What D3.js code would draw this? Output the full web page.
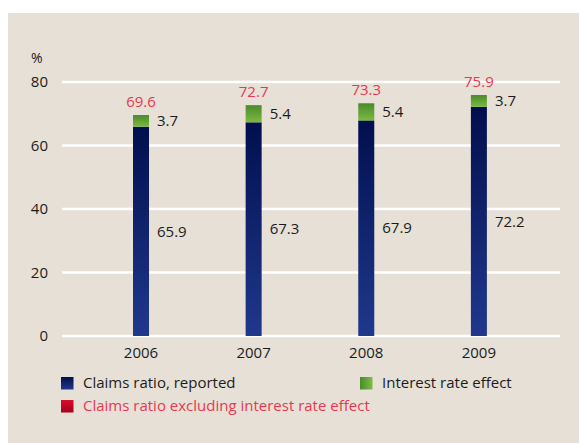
<!DOCTYPE html>
<html><head><meta charset="utf-8">
<script src="https://cdn.jsdelivr.net/npm/d3@7"></script>
<style>body{margin:0;background:#fff}svg{display:block}text{font-family:"Open Sans",sans-serif}</style>
</head><body><div id="chart"></div>
<script>
const years = ["2006","2007","2008","2009"];
const reported = [65.9, 67.3, 67.9, 72.2];
const interestEffect = [3.7, 5.4, 5.4, 3.7];
const excluding = [69.6, 72.7, 73.3, 75.9];
const yTicks = [0,20,40,60,80];
const legendLabels = ["Claims ratio, reported","Interest rate effect","Claims ratio excluding interest rate effect"];

const W=579,H=443;
const svg=d3.select("#chart").append("svg").attr("width",W).attr("height",H);
const defs=svg.append("defs");
function grad(id,x2,y2,c1,c2){const g=defs.append("linearGradient").attr("id",id).attr("x1",0).attr("y1",0).attr("x2",x2).attr("y2",y2);
g.append("stop").attr("offset","0%").attr("stop-color",c1);g.append("stop").attr("offset","100%").attr("stop-color",c2);}
grad("gBlue",0,1,"#020f4e","#20388c");
grad("gGreen",0,1,"#4a8a2c","#7cba40");
grad("gGreenH",1,0,"#4a8a2c","#80bd44");
grad("gRed",0,1,"#d2102c","#a8001e");

svg.append("rect").attr("x",8).attr("y",13).attr("width",W-8).attr("height",H-13).attr("fill","#e6e0d6");

const y=d3.scaleLinear().domain([0,80]).range([336,82]);
const x=d3.scalePoint().domain(years).range([84.7,535.2]).padding(0.5);
const bw=16;
const fs=15, tc="#1c1c1c";

svg.append("g").selectAll("line").data(yTicks).join("line")
 .attr("x1",62).attr("x2",560).attr("y1",d=>y(d)).attr("y2",d=>y(d))
 .attr("stroke","#fff").attr("stroke-width",2.5);
svg.append("g").selectAll("text").data(yTicks).join("text")
 .attr("x",48).attr("y",d=>y(d)).attr("dy","0.35em").attr("text-anchor","end")
 .attr("font-size",fs).attr("fill",tc).text(d=>d);
svg.append("text").attr("x",31).attr("y",63).attr("font-size",14).attr("fill",tc).text("%");

const data=years.map((yr,i)=>({yr,rep:reported[i],ie:interestEffect[i],ex:excluding[i]}));
const g=svg.append("g");
g.selectAll(".b").data(data).join("rect").attr("x",d=>x(d.yr)-bw/2).attr("width",bw)
 .attr("y",d=>y(d.rep)).attr("height",d=>y(0)-y(d.rep)).attr("fill","url(#gBlue)");
g.selectAll(".g").data(data).join("rect").attr("x",d=>x(d.yr)-bw/2).attr("width",bw)
 .attr("y",d=>y(d.rep+d.ie)).attr("height",d=>y(d.rep)-y(d.rep+d.ie)).attr("fill","url(#gGreen)");
g.selectAll(".lr").data(data).join("text").attr("x",d=>x(d.yr)+bw/2+8).attr("y",d=>(y(0)+y(d.rep))/2)
 .attr("dy","0.35em").attr("font-size",fs).attr("fill",tc).text(d=>d.rep.toFixed(1));
g.selectAll(".li").data(data).join("text").attr("x",d=>x(d.yr)+bw/2+8).attr("y",d=>(y(d.rep)+y(d.rep+d.ie))/2)
 .attr("dy","0.35em").attr("font-size",fs).attr("fill",tc).text(d=>d.ie.toFixed(1));
g.selectAll(".le").data(data).join("text").attr("x",d=>x(d.yr)).attr("y",d=>y(d.rep+d.ie)-8)
 .attr("text-anchor","middle").attr("font-size",fs).attr("fill","#e8384f").text(d=>d.ex.toFixed(1));
g.selectAll(".xl").data(years).join("text").attr("x",d=>x(d)).attr("y",358)
 .attr("text-anchor","middle").attr("font-size",fs).attr("fill",tc).text(d=>d);

const leg=[{x:61,y:377,fill:"url(#gBlue)",c:tc,t:legendLabels[0]},
 {x:360,y:377,fill:"url(#gGreenH)",c:tc,t:legendLabels[1]},
 {x:61,y:400,fill:"url(#gRed)",c:"#e8384f",t:legendLabels[2]}];
const lg=svg.append("g").selectAll("g").data(leg).join("g");
lg.append("rect").attr("x",d=>d.x).attr("y",d=>d.y).attr("width",12.5).attr("height",12.5).attr("fill",d=>d.fill);
lg.append("text").attr("x",d=>d.x+22).attr("y",d=>d.y+11).attr("font-size",fs).attr("fill",d=>d.c).text(d=>d.t);
</script></body></html>
